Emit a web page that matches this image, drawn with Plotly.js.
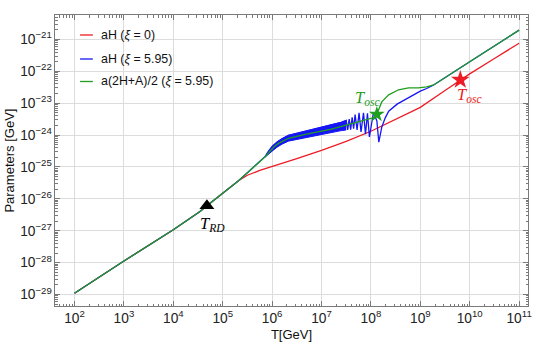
<!DOCTYPE html>
<html>
<head>
<meta charset="utf-8">
<script src="https://cdn.plot.ly/plotly-3.0.1.min.js"></script>
<style>
  html, body { margin: 0; padding: 0; background: #fff; }
  #plot { width: 540px; height: 350px; }
</style>
</head>
<body>
<div id="plot"></div>
<script>
// All values below are log10 (T in GeV, parameters in GeV)

// radiation era, shared by the three curves
let earlyT = [2, 3, 4, 4.54, 4.68, 4.95, 5.05, 5.32];
let earlyY = [-28.96, -27.95, -26.97, -26.40, -26.22, -25.88, -25.77, -25.43];

// aH (xi = 0)
let redT = [5.4, 5.5, 5.75, 6.0, 6.5, 7.0, 7.5, 8.0, 8.5, 9.0, 9.5, 10.0, 10.5, 11.0];
let redY = [-25.35, -25.26, -25.11, -24.99, -24.74, -24.48, -24.2, -23.88, -23.5, -23.13, -22.6, -22.08, -21.6, -21.12];

// aH (xi = 5.95): dense oscillation band (upper / lower envelope)
let bandT = [5.86, 5.92, 6.0, 6.1, 6.2, 6.33, 6.5, 6.67, 6.85, 7.0, 7.18, 7.3, 7.4, 7.5];
let bandHi = [-24.67, -24.52, -24.355, -24.22, -24.115, -24.01, -23.945, -23.88, -23.825, -23.77, -23.705, -23.65, -23.60, -23.54];
let bandLo = [-24.69, -24.60, -24.505, -24.38, -24.285, -24.19, -24.135, -24.08, -24.035, -23.99, -23.935, -23.89, -23.86, -23.84];

// aH (xi = 5.95): resolved oscillations and late part
let blueT = [7.53, 7.56, 7.59, 7.62, 7.65, 7.68, 7.72, 7.76, 7.80, 7.85, 7.89, 7.93, 7.97,
             8.05, 8.12, 8.16, 8.22, 8.29, 8.36, 8.53, 8.70, 8.83, 9.0, 9.13, 9.27, 10.0, 11.0];
let blueY = [-23.84, -23.50, -23.83, -23.44, -23.80, -23.36, -23.84, -23.30, -23.90, -23.30, -23.97, -23.32, -24.06,
             -23.30, -23.55, -24.22, -23.75, -23.46, -23.25, -23.03, -22.88, -22.77, -22.62, -22.54, -22.43, -21.70, -20.71];

// a(2H+A)/2 (xi = 5.95)
let greenT = [5.6, 5.86, 5.96, 6.05, 6.13, 6.33, 6.67, 7.0, 7.18, 7.5, 7.65, 7.85, 8.0, 8.08, 8.12, 8.17, 8.22, 8.36, 8.56, 8.76, 8.96, 9.13, 9.27, 10.0, 11.0];
let greenY = [-25.04, -24.68, -24.50, -24.35, -24.26, -24.10, -23.98, -23.88, -23.82, -23.69, -23.63, -23.53, -23.48, -23.43, -23.35, -23.15, -22.96, -22.74, -22.58, -22.52, -22.52, -22.49, -22.43, -21.70, -20.71];

// marked points: T_RD, T_osc (xi = 5.95), T_osc (xi = 0)
let markT = [4.68, 8.12, 9.81];
let markY = [-26.22, -23.35, -22.27];

let legendNames = ['aH (<i>ξ</i> = 0)', 'aH (<i>ξ</i> = 5.95)', 'a(2H+A)/2 (<i>ξ</i> = 5.95)'];

const RED = '#ee1c24';
const BLUE = '#1616f5';
const GREEN = '#1f9e1f';

function pow10(arr) {
    return arr.map(v => Math.pow(10, v));
}

function drawChart() {
    let traceRed = {
        x: pow10(earlyT.concat(redT)),
        y: pow10(earlyY.concat(redY)),
        type: 'scatter', mode: 'lines',
        line: { color: RED, width: 1.3 }
    };
    let traceBandHi = {
        x: pow10(bandT), y: pow10(bandHi),
        type: 'scatter', mode: 'lines',
        line: { color: BLUE, width: 1 }
    };
    let traceBandLo = {
        x: pow10(bandT), y: pow10(bandLo),
        type: 'scatter', mode: 'lines', fill: 'tonexty', fillcolor: BLUE,
        line: { color: BLUE, width: 1 }
    };
    let traceBlue = {
        x: pow10(earlyT.concat([5.6], bandT, blueT)),
        y: pow10(earlyY.concat([-25.04], bandHi, blueY)),
        type: 'scatter', mode: 'lines',
        line: { color: BLUE, width: 1.3 }
    };
    let traceGreen = {
        x: pow10(earlyT.concat(greenT)),
        y: pow10(earlyY.concat(greenY)),
        type: 'scatter', mode: 'lines',
        line: { color: GREEN, width: 1.3 }
    };
    let traceMarks = {
        x: pow10(markT), y: pow10(markY),
        type: 'scatter', mode: 'markers',
        marker: {
            symbol: ['triangle-up', 'star', 'star'],
            size: [13, 12, 14],
            color: ['#000', GREEN, RED],
            opacity: 1,
            line: { width: 0 }
        }
    };

    let axisCommon = {
        type: 'log',
        dtick: 1,
        exponentformat: 'power',
        showline: true, linecolor: '#7a7a7a', linewidth: 1,
        mirror: 'allticks',
        ticks: 'inside', ticklen: 5, tickcolor: '#7a7a7a',
        showgrid: true, gridcolor: '#dcdcdc', gridwidth: 1,
        zeroline: false,
        minor: { ticks: 'inside', ticklen: 2.5, tickcolor: '#7a7a7a', showgrid: false },
        tickfont: { family: 'Liberation Sans, Arial, sans-serif', size: 11, color: '#222' }
    };

    // legend drawn by hand: short line + label
    let legendColors = [RED, BLUE, GREEN];
    let legendRows = [0.9313, 0.8488, 0.7715];
    let shapes = legendRows.map((yy, i) => ({
        type: 'line', xref: 'paper', yref: 'paper',
        x0: 0.053, x1: 0.080, y0: yy, y1: yy,
        line: { color: legendColors[i], width: 1.3 }
    }));
    let annotations = legendRows.map((yy, i) => ({
        xref: 'paper', yref: 'paper', x: 0.093, y: yy,
        xanchor: 'left', yanchor: 'middle', showarrow: false,
        text: legendNames[i],
        font: { family: 'Liberation Sans, Arial, sans-serif', size: 12.4, color: '#111' }
    }));

    // y axis title, placed by hand
    annotations.push({
        xref: 'paper', yref: 'paper', x: -0.097, y: 0.5,
        xanchor: 'center', yanchor: 'middle', textangle: -90, showarrow: false,
        text: 'Parameters [GeV]',
        font: { family: 'Liberation Sans, Arial, sans-serif', size: 13, color: '#111' }
    });

    // point labels (annotation coordinates are log10 on log axes)
    let serif = 'Liberation Serif, Times New Roman, serif';
    annotations.push(
        { x: 4.79, y: -26.80, text: '<i>T</i><sub><i>RD</i></sub>', showarrow: false,
          font: { family: serif, size: 16.5, color: '#000' } },
        { x: 7.925, y: -22.85, text: '<i>T</i><sub><i>osc</i></sub>', showarrow: false,
          font: { family: serif, size: 16.5, color: GREEN } },
        { x: 9.99, y: -22.74, text: '<i>T</i><sub><i>osc</i></sub>', showarrow: false,
          font: { family: serif, size: 16.5, color: RED } }
    );

    let layout = {
        width: 540, height: 350,
        margin: { l: 55, r: 12, t: 15, b: 44 },
        paper_bgcolor: '#fff', plot_bgcolor: '#fff',
        showlegend: false,
        xaxis: Object.assign({}, axisCommon, {
            range: [1.605, 11.18],
            title: { text: 'T[GeV]', standoff: 4,
                     font: { family: 'Liberation Sans, Arial, sans-serif', size: 13, color: '#111' } }
        }),
        yaxis: Object.assign({}, axisCommon, {
            range: [-29.36, -20.235]
        }),
        shapes: shapes,
        annotations: annotations
    };

    Plotly.newPlot('plot', [traceRed, traceBandHi, traceBandLo, traceBlue, traceGreen, traceMarks], layout,
        { staticPlot: true });
}

document.addEventListener('DOMContentLoaded', drawChart);
</script>
</body>
</html>
